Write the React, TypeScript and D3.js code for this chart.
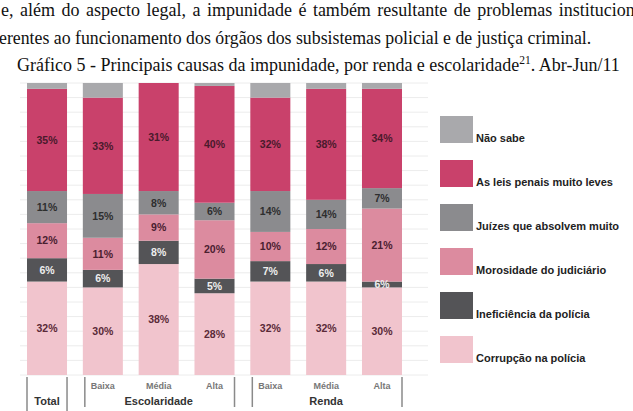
import React from "react";
import * as d3 from "d3";

const categories = ["Total", "Baixa", "Média", "Alta", "Baixa", "Média", "Alta"];
const groupNames = ["Escolaridade", "Renda"];
const groupMembers = [[1, 2, 3], [4, 5, 6]];

const seriesKeys = ["corrupcao", "ineficiencia", "morosidade", "juizes", "leis", "naoSabe"];
const seriesNames = [
  "Corrupção na polícia",
  "Ineficiência da polícia",
  "Morosidade do judiciário",
  "Juízes que absolvem muito",
  "As leis penais muito leves",
  "Não sabe",
];

const corrupcao = [32, 30, 38, 28, 32, 32, 30];
const ineficiencia = [8, 6, 8, 5, 7, 6, 2];
const morosidade = [12, 11, 9, 20, 10, 12, 25];
const juizes = [11, 15, 8, 6, 14, 10, 7];
const leis = [35, 33, 37, 40, 32, 38, 34];
const naoSabe = [2, 5, 0, 1, 5, 2, 2];

// printed labels
const corrupcaoLbl = [32, 30, 38, 28, 32, 32, 30];
const ineficienciaLbl = [6, 6, 8, 5, 7, 6, 6];
const morosidadeLbl = [12, 11, 9, 20, 10, 12, 21];
const juizesLbl = [11, 15, 8, 6, 14, 14, 7];
const leisLbl = [35, 33, 31, 40, 32, 38, 34];

const colors = ["#f1c4cd", "#545457", "#dc8b9f", "#8b8b8e", "#c9416b", "#a9a9ac"];
const labelColors = ["#5a2a38", "#eeeeee", "#4a2030", "#2e2e2e", "#4a1a2c", "#333"];

const gridTicks = d3.range(0, 101, 5);

export default function App() {
  const W = 633, H = 411;
  const data = categories.map((c, i) => ({
    i,
    corrupcao: corrupcao[i],
    ineficiencia: ineficiencia[i],
    morosidade: morosidade[i],
    juizes: juizes[i],
    leis: leis[i],
    naoSabe: naoSabe[i],
  }));
  const labels = [corrupcaoLbl, ineficienciaLbl, morosidadeLbl, juizesLbl, leisLbl];
  const stack = d3.stack<any>().keys(seriesKeys)(data);
  const x = d3.scaleBand<number>().domain(d3.range(categories.length)).range([27, 402]).paddingInner(0.283).paddingOuter(0);
  const y = d3.scaleLinear().domain([0, 100]).range([375, 83]);
  const bw = x.bandwidth();
  const sans = "Arial, 'Liberation Sans', Helvetica, sans-serif";
  const serif = "'Liberation Serif', 'Times New Roman', serif";

  return (
    <svg width={W} height={H} style={{ position: "absolute", left: 0, top: 0, background: "#fff" }}>
      <text x={1} y={16} fontFamily={serif} fontSize={18} fill="#111" style={{ wordSpacing: "2px" }}>
        e, além do aspecto legal, a impunidade é também resultante de problemas institucionais
      </text>
      <text x={-1} y={43.5} fontFamily={serif} fontSize={17.8} fill="#111">
        erentes ao funcionamento dos órgãos dos subsistemas policial e de justiça criminal.
      </text>
      <text x={17} y={71} fontFamily={serif} fontSize={18} fill="#111">
        Gráfico 5 - Principais causas da impunidade, por renda e escolaridade
        <tspan fontSize={11.5} dy={-7}>21</tspan>
        <tspan dy={7}>. Abr-Jun/11</tspan>
      </text>

      <g>
        {gridTicks.map((t) => (
          <line key={t} x1={20} x2={428} y1={y(t)} y2={y(t)} stroke="#ececec" strokeWidth={1} />
        ))}
      </g>

      {stack.map((s, si) => (
        <g key={s.key} fill={colors[si]}>
          {s.map((d, ci) => {
            const h = y(d[0]) - y(d[1]);
            if (h <= 0) return null;
            return <rect key={ci} x={x(ci)} y={y(d[1])} width={bw} height={h} />;
          })}
        </g>
      ))}

      {stack.slice(0, 5).map((s, si) => (
        <g key={"l" + s.key}>
          {s.map((d, ci) => (
            <text
              key={ci}
              x={(x(ci) as number) + bw / 2}
              y={(y(d[0]) + y(d[1])) / 2 + 3.8}
              textAnchor="middle"
              fontFamily={sans}
              fontWeight="bold"
              fontSize={10.5}
              fill={labelColors[si]}
            >
              {labels[si][ci]}%
            </text>
          ))}
        </g>
      ))}

      {/* category axis */}
      <g fontFamily={sans} fontWeight="bold">
        {[0].map((ci) => (
          <g key="tot">
            <line x1={x(ci)} x2={x(ci)} y1={377} y2={411} stroke="#8a8a8a" strokeWidth={1.5} />
            <line x1={(x(ci) as number) + bw} x2={(x(ci) as number) + bw} y1={377} y2={411} stroke="#8a8a8a" strokeWidth={1.5} />
            <text x={(x(ci) as number) + bw / 2} y={405} textAnchor="middle" fontSize={11} fill="#333">
              {categories[ci]}
            </text>
          </g>
        ))}
        {groupMembers.map((m, gi) => {
          const x0 = (x(m[0]) as number) + 2;
          const x1 = (x(m[m.length - 1]) as number) + bw;
          return (
            <g key={gi}>
              <line x1={x0} x2={x0} y1={377} y2={407} stroke="#8a8a8a" strokeWidth={1.5} />
              <line x1={x1} x2={x1} y1={377} y2={407} stroke="#8a8a8a" strokeWidth={1.5} />
              {m.map((ci) => (
                <text key={ci} x={(x(ci) as number) + bw / 2} y={389} textAnchor="middle" fontSize={9} fill="#777">
                  {categories[ci]}
                </text>
              ))}
              <text x={(x(m[1]) as number) + bw / 2} y={405} textAnchor="middle" fontSize={11} fill="#333">
                {groupNames[gi]}
              </text>
            </g>
          );
        })}
      </g>

      {/* legend */}
      <g fontFamily={sans} fontWeight="bold">
        {seriesNames
          .map((n, i) => ({ n, i }))
          .reverse()
          .map((d, k) => (
            <g key={d.n} transform={`translate(440, ${116 + k * 44})`}>
              <rect width={33} height={27} fill={colors[d.i]} />
              <text x={36} y={25.5} fontSize={11} fill="#222">
                {d.n}
              </text>
            </g>
          ))}
      </g>
    </svg>
  );
}
